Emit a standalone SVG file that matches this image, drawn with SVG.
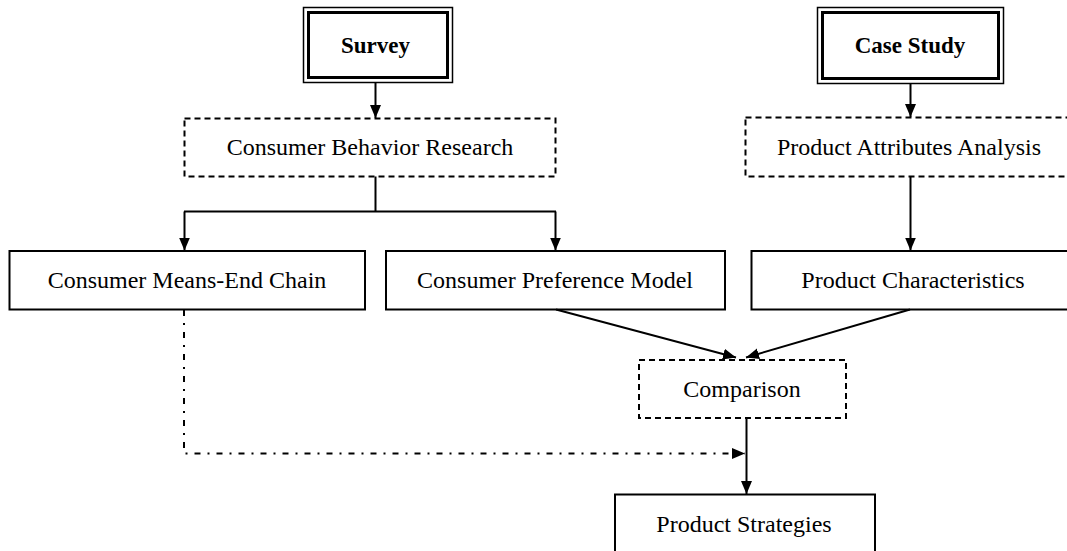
<svg xmlns="http://www.w3.org/2000/svg" width="1067" height="551" viewBox="0 0 1067 551">
  <style>
    .t { font-family: "Liberation Serif", "Times New Roman", serif; font-size: 24px; fill: #000; text-anchor: middle; }
    .b { font-weight: bold; font-size: 23px; }
    .box { fill: #fff; stroke: #000; stroke-width: 2; }
    .dash { fill: #fff; stroke: #000; stroke-width: 2; stroke-dasharray: 6 4; }
    .outer { fill: #fff; stroke: #000; stroke-width: 1.5; }
    .inner { fill: none; stroke: #000; stroke-width: 3; }
    .c { fill: none; stroke: #000; stroke-width: 2; }
    .dd { fill: none; stroke: #000; stroke-width: 2; stroke-dasharray: 6 7 2 7; }
  </style>
  <defs>
    <marker id="ah" markerUnits="userSpaceOnUse" markerWidth="13" markerHeight="12" refX="13" refY="5.5" orient="auto">
      <path d="M0,0 L13,5.5 L0,11 z" fill="#000"/>
    </marker>
  </defs>
  <rect width="1067" height="551" fill="#fff"/>

  <g id="survey">
    <rect class="outer" x="303.5" y="7.5" width="149" height="75"/>
    <rect class="inner" x="308.5" y="12.5" width="139" height="65"/>
    <text class="t b" x="375.5" y="53">Survey</text>
  </g>
  <g id="case-study">
    <rect class="outer" x="817.5" y="7.5" width="186" height="76"/>
    <rect class="inner" x="822.5" y="12.5" width="176" height="66"/>
    <text class="t b" x="910" y="53">Case Study</text>
  </g>
  <g id="consumer-behavior-research">
    <rect class="dash" x="184.5" y="118.5" width="371" height="58"/>
    <text class="t" x="370" y="155">Consumer Behavior Research</text>
  </g>
  <g id="product-attributes-analysis">
    <rect class="dash" x="745.5" y="117.5" width="330" height="59"/>
    <text class="t" x="909" y="155">Product Attributes Analysis</text>
  </g>
  <g id="consumer-means-end-chain">
    <rect class="box" x="9.5" y="251" width="355.5" height="58.5"/>
    <text class="t" x="187" y="288">Consumer Means-End Chain</text>
  </g>
  <g id="consumer-preference-model">
    <rect class="box" x="386" y="251" width="339" height="58.5"/>
    <text class="t" x="555" y="288">Consumer Preference Model</text>
  </g>
  <g id="product-characteristics">
    <rect class="box" x="751.5" y="251" width="330" height="58.5"/>
    <text class="t" x="913" y="288">Product Characteristics</text>
  </g>
  <g id="comparison">
    <rect class="dash" x="639" y="360" width="207" height="58"/>
    <text class="t" x="742" y="397">Comparison</text>
  </g>
  <g id="product-strategies">
    <rect class="box" x="615" y="494.5" width="260" height="80"/>
    <text class="t" x="744" y="532">Product Strategies</text>
  </g>

  <g id="connectors">
    <path class="c" d="M375.5,82.5 V118" marker-end="url(#ah)"/>
    <path class="c" d="M910.5,83.5 V117" marker-end="url(#ah)"/>
    <path class="c" d="M375.5,176.5 V211.5 M184,211.5 H556"/>
    <path class="c" d="M184.5,211.5 V250.5" marker-end="url(#ah)"/>
    <path class="c" d="M555.5,211.5 V250.5" marker-end="url(#ah)"/>
    <path class="c" d="M910.5,177 V250.5" marker-end="url(#ah)"/>
    <path class="c" d="M556,309.5 L736,357.5" marker-end="url(#ah)"/>
    <path class="c" d="M910,309.5 L746,357.5" marker-end="url(#ah)"/>
    <path class="c" d="M746.5,418 V494" marker-end="url(#ah)"/>
    <path class="dd" d="M184,310 V453.5 H745" marker-end="url(#ah)"/>
  </g>
</svg>
